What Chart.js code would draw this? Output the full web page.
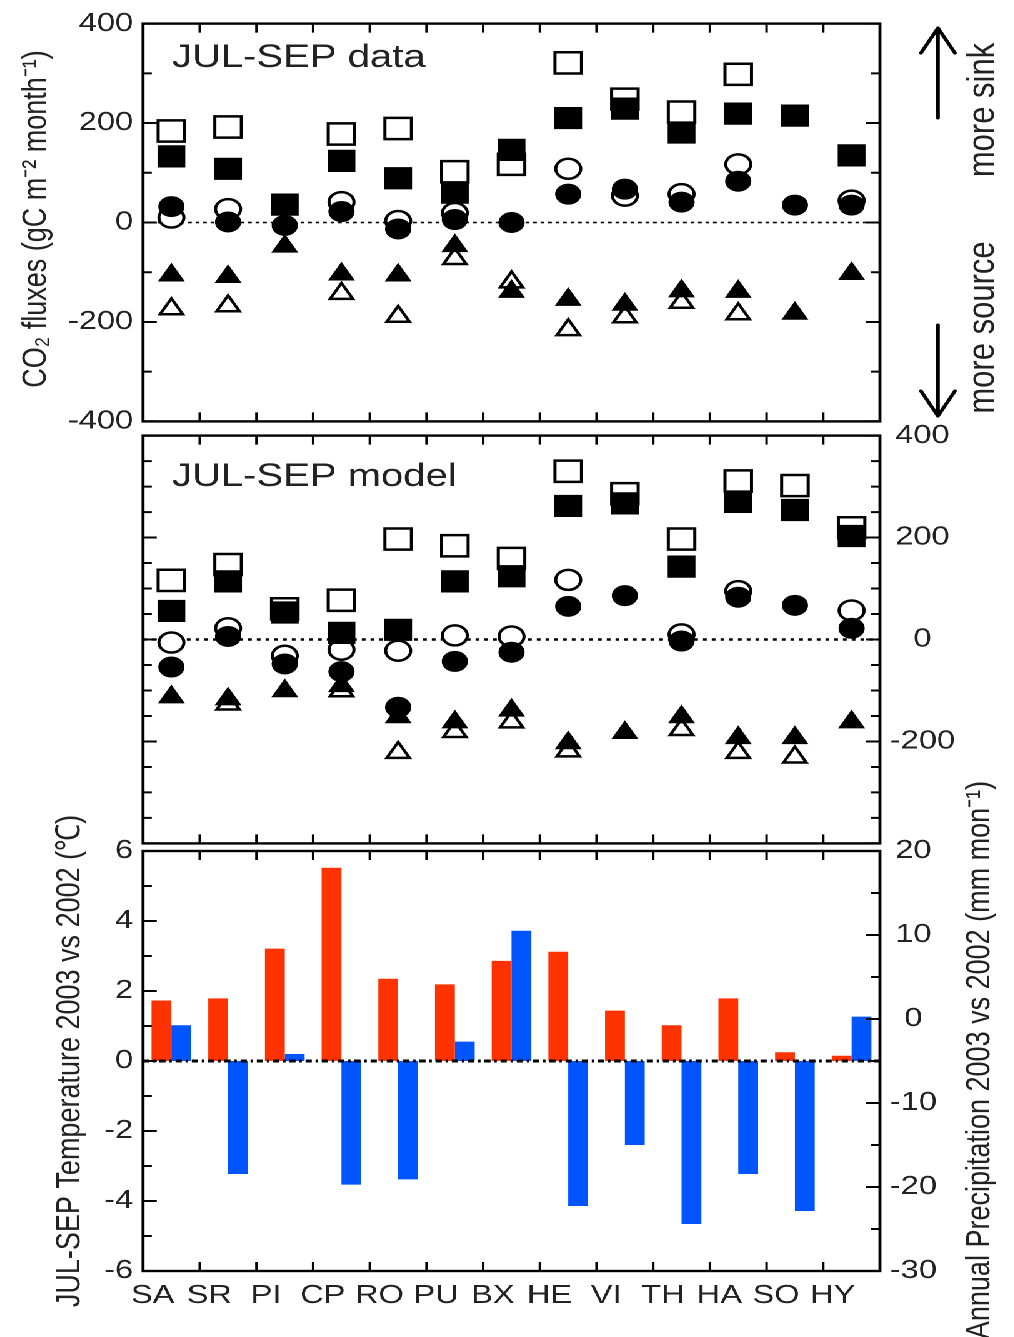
<!DOCTYPE html>
<html>
<head>
<meta charset="utf-8">
<script src="https://cdn.jsdelivr.net/npm/chart.js@4.4.0/dist/chart.umd.min.js"></script>
<style>
  html, body { margin: 0; padding: 0; background: #fff; }
  /* the source figure is stretched horizontally, so the whole stage is too */
  #stage { position: absolute; left: 0; top: 0; width: 811px; height: 1337px; transform: scaleX(1.25); transform-origin: 0 0; }
  #stage canvas { position: absolute; left: 0; }
</style>
</head>
<body>
<div id="stage">
  <canvas id="dataChart" width="811" height="445" style="top:0px"></canvas>
  <canvas id="modelChart" width="811" height="455" style="top:412px"></canvas>
  <canvas id="climateChart" width="811" height="557" style="top:780px"></canvas>
</div>
<script>
const sites = ["SA", "SR", "PI", "CP", "RO", "PU", "BX", "HE", "VI", "TH", "HA", "SO", "HY"];

// JUL-SEP data (gC m-2 month-1)
const dataSquareOpen     = [184, 192, null, 178, 189, 102, 117, 321, 248, 222, 298, null, null];
const dataSquareFilled   = [133, 108, 36, 124, 89, 60, 146, 210, 229, 181, 219, 215, 135];
const dataCircleOpen     = [10, 27, null, 41, 3, 19, null, 108, 54, 57, 117, null, 44];
const dataCircleFilled   = [32, 1, -6, 22, -13, 6, 0, 57, 67, 41, 83, 35, 35];
const dataTriangleOpen   = [-174, -168, null, -143, -189, -73, -120, -216, -190, -161, -184, null, null];
const dataTriangleFilled = [-106, -109, -48, -104, -106, -47, -139, -155, -165, -138, -139, -183, -103];

// JUL-SEP model
const modelSquareOpen     = [116, 147, 60, 77, 197, 184, 159, 330, 286, 197, 311, 302, 219];
const modelSquareFilled   = [56, 114, 53, 13, 19, 114, 124, 262, 267, 143, 270, 254, 203];
const modelCircleOpen     = [-6, 22, -32, -20, -22, 8, 6, 117, null, 10, 95, null, 57];
const modelCircleFilled   = [-54, 6, -48, -63, -133, -43, -25, 65, 86, -3, 83, 67, 22];
const modelTriangleOpen   = [null, -127, null, -101, -222, -181, -162, -219, null, -177, -222, -231, null];
const modelTriangleFilled = [-113, -117, -101, -91, -152, -162, -139, -203, -183, -152, -193, -193, -162];

// 2003 vs 2002 differences
const tempDiff   = [1.73, 1.79, 3.21, 5.52, 2.35, 2.19, 2.86, 3.12, 1.44, 1.02, 1.79, 0.25, 0.15];
const precipDiff = [-0.75, -18.45, -4.17, -19.72, -19.09, -2.7, 10.5, -22.26, -15.0, -24.4, -18.45, -22.86, 0.28];
const precipBase = -5;   // blue bars start at the temperature zero line

const fluxRange   = [-400, 400];
const tempRange   = [-6, 6];
const precipRange = [-30, 20];

const FONT = "'Liberation Sans', Arial, sans-serif";
Chart.defaults.font.family = FONT;
Chart.defaults.color = "#222";

function markers(values, style, filled) {
    const r = { rect: 15, circle: 10, triangle: filled ? 11.5 : 10.5 }[style];
    return {
        data: values,
        showLine: false,
        pointStyle: style,
        pointRadius: r,
        pointHoverRadius: r,
        pointBackgroundColor: filled ? "#000" : "#fff",
        pointBorderColor: "#000",
        pointBorderWidth: filled ? 1 : 2.5
    };
}

function valueAxis(o) {
    return {
        position: o.position,
        min: o.range[0],
        max: o.range[1],
        afterFit: s => { s.width = o.width; },
        grid: { display: false, drawTicks: false },
        border: { display: false },
        ticks: {
            stepSize: o.step,
            autoSkip: false,
            maxTicksLimit: 100,
            padding: o.padding,
            crossAlign: o.crossAlign || "near",
            font: { size: 26 },
            color: "#222",
            callback: v => (Math.abs(v % o.major) < 1e-6 && !(o.hide || []).includes(v)) ? String(v) : ""
        }
    };
}

function htext(ctx, text, x, y, size) {
    ctx.save();
    ctx.font = size + "px " + FONT;
    ctx.fillStyle = "#222";
    ctx.textBaseline = "alphabetic";
    ctx.fillText(text, x, y);
    ctx.restore();
}

function vtext(ctx, text, x, y, size) {
    ctx.save();
    ctx.translate(x, y);
    ctx.rotate(-Math.PI / 2);
    ctx.font = size + "px " + FONT;
    ctx.fillStyle = "#222";
    ctx.textAlign = "center";
    ctx.textBaseline = "middle";
    ctx.fillText(text, 0, 0);
    ctx.restore();
}

function arrow(ctx, x, y0, y1) {
    const dir = y1 < y0 ? 1 : -1;
    ctx.save();
    ctx.strokeStyle = "#000";
    ctx.lineWidth = 3;
    ctx.lineCap = "round";
    ctx.lineJoin = "round";
    ctx.beginPath();
    ctx.moveTo(x, y0);
    ctx.lineTo(x, y1);
    ctx.moveTo(x - 13.6, y1 + 25 * dir);
    ctx.lineTo(x, y1);
    ctx.lineTo(x + 13.6, y1 + 25 * dir);
    ctx.stroke();
    ctx.restore();
}

function drawZero(chart, cfg) {
    const { ctx, chartArea: a } = chart;
    const y = chart.scales[cfg.zeroAxis].getPixelForValue(0);
    ctx.save();
    ctx.strokeStyle = "#000";
    ctx.lineWidth = cfg.zeroWidth;
    ctx.setLineDash(cfg.zeroDash);
    ctx.beginPath();
    ctx.moveTo(a.left, y);
    ctx.lineTo(a.right, y);
    ctx.stroke();
    ctx.restore();
}

// frame with inward tick marks, like the original plot
function drawFrame(chart, cfg) {
    const { ctx, chartArea: a } = chart;
    const xs = chart.scales.x;
    ctx.save();
    ctx.strokeStyle = "#000";
    ctx.lineWidth = 2;
    ctx.beginPath();
    for (let i = 1; i < sites.length; i++) {
        const x = (xs.getPixelForValue(i - 1) + xs.getPixelForValue(i)) / 2;
        ctx.moveTo(x, a.top); ctx.lineTo(x, a.top + 9);
        ctx.moveTo(x, a.bottom); ctx.lineTo(x, a.bottom - 9);
    }
    cfg.sides.forEach(s => {
        const sc = chart.scales[s.axis];
        sc.ticks.forEach(t => {
            const y = sc.getPixelForValue(t.value);
            const len = Math.abs(t.value % s.major) < 1e-6 ? 11 : 7;
            if (s.side === "left") { ctx.moveTo(a.left, y); ctx.lineTo(a.left + len, y); }
            else { ctx.moveTo(a.right, y); ctx.lineTo(a.right - len, y); }
        });
    });
    ctx.stroke();
    ctx.lineWidth = 2.4;
    ctx.strokeRect(a.left, a.top, a.right - a.left, a.bottom - a.top);
    ctx.restore();
}

function makeDecor(cfg) {
    return {
        id: "decor",
        beforeDatasetsDraw(chart) { if (!cfg.zeroOnTop) drawZero(chart, cfg); },
        afterDatasetsDraw(chart) {
            if (cfg.zeroOnTop) drawZero(chart, cfg);
            drawFrame(chart, cfg);
        },
        afterDraw(chart) { cfg.extra(chart.ctx, chart); }
    };
}

const baseOptions = {
    responsive: false,
    animation: false,
    devicePixelRatio: 2,
    events: [],
    plugins: { legend: { display: false }, tooltip: { enabled: false } }
};

// **1 JUL-SEP data**
new Chart(document.getElementById("dataChart"), {
    type: "line",
    data: {
        labels: sites,
        datasets: [
            markers(dataSquareFilled, "rect", true),
            markers(dataCircleFilled, "circle", true),
            markers(dataTriangleFilled, "triangle", true),
            markers(dataSquareOpen, "rect", false),
            markers(dataCircleOpen, "circle", false),
            markers(dataTriangleOpen, "triangle", false)
        ]
    },
    options: {
        ...baseOptions,
        layout: { padding: { top: 13, bottom: 14, left: 0, right: 107 } },
        scales: {
            x: { type: "category", offset: true, display: false },
            y: valueAxis({ position: "left", range: fluxRange, step: 100, major: 200, width: 114.4, padding: 8 })
        }
    },
    plugins: [makeDecor({
        zeroAxis: "y", zeroWidth: 1.6, zeroDash: [3, 3], zeroOnTop: false,
        sides: [{ axis: "y", side: "left", major: 200 }, { axis: "y", side: "right", major: 200 }],
        extra: ctx => {
            htext(ctx, "JUL-SEP data", 137.6, 67, 32);
            vtext(ctx, "CO₂ fluxes (gC m⁻² month⁻¹)", 29, 219, 27);
            arrow(ctx, 750.4, 118, 28);
            arrow(ctx, 750.4, 325, 416);
            vtext(ctx, "more sink", 786.4, 110, 31);
            vtext(ctx, "more source", 786.4, 327.5, 31);
        }
    })]
});

// **2 JUL-SEP model**
new Chart(document.getElementById("modelChart"), {
    type: "line",
    data: {
        labels: sites,
        datasets: [
            markers(modelSquareFilled, "rect", true),
            markers(modelCircleFilled, "circle", true),
            markers(modelTriangleFilled, "triangle", true),
            markers(modelSquareOpen, "rect", false),
            markers(modelCircleOpen, "circle", false),
            markers(modelTriangleOpen, "triangle", false)
        ]
    },
    options: {
        ...baseOptions,
        layout: { padding: { top: 20, bottom: 16, left: 114.4, right: 0 } },
        scales: {
            x: { type: "category", offset: true, display: false },
            y: valueAxis({ position: "right", range: fluxRange, step: 50, major: 200, width: 107, padding: 8, crossAlign: "center", hide: [-400] })
        }
    },
    plugins: [makeDecor({
        zeroAxis: "y", zeroWidth: 2.6, zeroDash: [3, 4], zeroOnTop: false,
        sides: [{ axis: "y", side: "left", major: 200 }, { axis: "y", side: "right", major: 200 }],
        extra: ctx => {
            htext(ctx, "JUL-SEP model", 137.6, 74, 32);
        }
    })]
});

// **3 Temperature and precipitation anomalies**
new Chart(document.getElementById("climateChart"), {
    type: "bar",
    data: {
        labels: sites,
        datasets: [
            { data: tempDiff, yAxisID: "y", backgroundColor: "#FF3300", borderWidth: 0,
              categoryPercentage: 0.7, barPercentage: 1.0 },
            { data: precipDiff, yAxisID: "y2", base: precipBase, backgroundColor: "#0055FF", borderWidth: 0,
              categoryPercentage: 0.7, barPercentage: 1.0 }
        ]
    },
    options: {
        ...baseOptions,
        layout: { padding: { top: 71, bottom: 0, left: 0, right: 0 } },
        scales: {
            x: {
                offset: true,
                afterFit: s => { s.height = 66; },
                grid: { display: false, drawTicks: false },
                border: { display: false },
                ticks: { font: { size: 26 }, color: "#222", padding: 9, labelOffset: -15, autoSkip: false, maxRotation: 0 }
            },
            y: valueAxis({ position: "left", range: tempRange, step: 1, major: 2, width: 114.4, padding: 8 }),
            y2: valueAxis({ position: "right", range: precipRange, step: 5, major: 10, width: 107, padding: 8, crossAlign: "center" })
        }
    },
    plugins: [makeDecor({
        zeroAxis: "y", zeroWidth: 3, zeroDash: [5, 3, 2, 3], zeroOnTop: true,
        sides: [{ axis: "y", side: "left", major: 2 }, { axis: "y2", side: "right", major: 10 }],
        extra: ctx => {
            vtext(ctx, "JUL-SEP Temperature 2003 vs 2002 (℃)", 56, 281, 27);
            vtext(ctx, "Annual Precipitation 2003 vs 2002 (mm mon⁻¹)", 784, 280, 27);
        }
    })]
});
</script>
</body>
</html>
